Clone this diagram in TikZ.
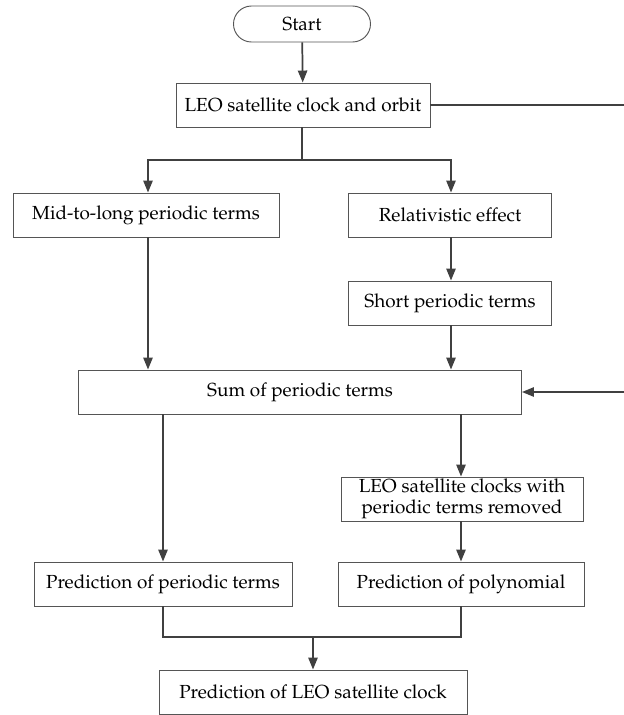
\documentclass[tikz,border=0pt]{standalone}
\usepackage[T1]{fontenc}
\usepackage{mathpazo}
\usetikzlibrary{arrows.meta}
\definecolor{lc}{HTML}{404040}
\definecolor{bc}{HTML}{555555}
\tikzset{
  box/.style={draw=bc, line width=0.7pt, fill=white, minimum height=44*0.75pt, inner sep=2pt, align=center, font=\fontsize{14.2}{15}\selectfont},
  startbox/.style={box, rounded corners=18*0.75pt, minimum height=36*0.75pt},
  conn/.style={draw=lc, line width=1.3pt},
  arr/.style={conn, -{Triangle[length=9pt,width=7pt]}}
}
\begin{document}
\begin{tikzpicture}[x=0.75pt,y=-0.75pt]
\useasboundingbox (0,0) rectangle (624,715);
\node[startbox, minimum width=137*0.75pt] (start) at (302,24) {Start};
\node[box, minimum width=254*0.75pt] (leo) at (303,105) {LEO satellite clock and orbit};
\node[box, minimum width=266*0.75pt] (mid) at (146,215) {Mid-to-long periodic terms};
\node[box, minimum width=203*0.75pt] (rel) at (450,215) {Relativistic effect};
\node[box, minimum width=203*0.75pt] (short) at (450,303) {Short periodic terms};
\node[box, minimum width=443*0.75pt] (sum) at (300,392) {Sum of periodic terms};
\node[box, minimum width=242*0.75pt, inner sep=0.5pt, font=\fontsize{14.2}{15.5}\selectfont] (rem) at (462,499) {LEO satellite clocks with\\periodic terms removed};
\node[box, minimum width=258*0.75pt] (pp) at (163,584) {Prediction of periodic terms};
\node[box, minimum width=246*0.75pt] (poly) at (461,584) {Prediction of polynomial};
\node[box, minimum width=308*0.75pt] (final) at (313,692) {Prediction of LEO satellite clock};

\coordinate (split) at (302,160);
\coordinate (r1) at (628,105);
\coordinate (r2) at (628,392);
\coordinate (join) at (313,637);

\draw[arr] (start) -- (leo);
\draw[conn] (leo.south -| split) -- (split);
\draw[arr] (split) -| (mid.north -| 148,0);
\draw[arr] (split) -| (rel.north -| 451,0);
\draw[conn] (leo.east) -- (r1) -- (r2);
\draw[arr] (r2) -- (sum.east);
\draw[arr] (mid.south -| 148,0) -- (sum.north -| 148,0);
\draw[arr] (rel.south -| 451,0) -- (short.north -| 451,0);
\draw[arr] (short.south -| 451,0) -- (sum.north -| 451,0);
\draw[arr] (sum.south -| 163,0) -- (pp.north -| 163,0);
\draw[arr] (sum.south -| 461,0) -- (rem.north -| 461,0);
\draw[arr] (rem.south -| 461,0) -- (poly.north -| 461,0);
\draw[conn] (pp.south -| 163,0) |- (join) -| (poly.south -| 461,0);
\draw[arr] (join) -- (final.north -| join);
\end{tikzpicture}
\end{document}
